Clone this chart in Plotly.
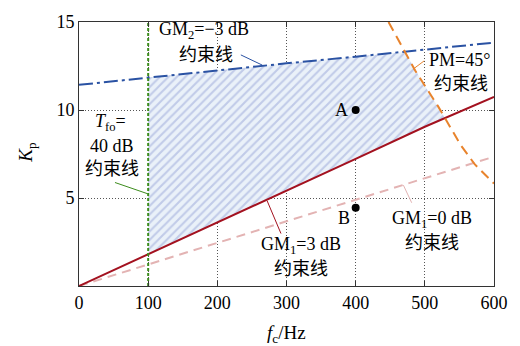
import numpy as np
import plotly.graph_objects as go

# ---- data ----
freq_line = [0, 100, 200, 300, 400, 500, 600]
gm2_kp = [11.43, 11.85, 12.25, 12.65, 13.03, 13.42, 13.83]      # GM2=-3 dB
gm1_3db_kp = [0, 1.80, 3.62, 5.44, 7.22, 9.05, 10.75]           # GM1=3 dB
gm1_0db_kp = [0, 1.22, 2.45, 3.68, 4.90, 6.12, 7.35]            # GM1=0 dB
pm_freq = [447.5, 470, 486, 519, 529, 552, 572, 600]            # PM=45 deg
pm_kp = [15.0, 13.4, 12.24, 10.22, 9.55, 8.0, 6.92, 5.82]
tfo_freq = [100, 100]                                            # Tfo=40 dB
tfo_kp = [0, 15]
point_names = ["A", "B"]
point_freq = [400, 400]
point_kp = [10.0, 4.45]
x_ticks = [0, 100, 200, 300, 400, 500, 600]
y_ticks = [5, 10, 15]

FONT = "Liberation Serif, Times New Roman, Noto Sans CJK SC, serif"

# feasible region: f >= Tfo, above GM1=3dB, below GM2 and PM curve
fg = np.linspace(tfo_freq[0], 600, 2001)
up = np.minimum(np.interp(fg, freq_line, gm2_kp),
                np.interp(fg, pm_freq, pm_kp, left=np.inf, right=-np.inf))
lo = np.interp(fg, freq_line, gm1_3db_kp)
ok = up >= lo
rf = fg[ok]
reg_x = np.concatenate([rf, rf[::-1], rf[:1]])
reg_y = np.concatenate([up[ok], lo[ok][::-1], up[ok][:1]])

fig = go.Figure()
fig.add_trace(go.Scatter(
    x=reg_x, y=reg_y, mode="lines", line=dict(width=0), fill="toself",
    fillcolor="#eaf1f9",
    fillpattern=dict(shape="/", fgcolor="#98a6d8", bgcolor="#eaf1f9", size=6, solidity=0.35),
    hoverinfo="skip"))
fig.add_trace(go.Scatter(x=freq_line, y=gm1_0db_kp, mode="lines",
                         line=dict(color="#e3b3b3", width=2, dash="9px,6px")))
fig.add_trace(go.Scatter(x=freq_line, y=gm1_3db_kp, mode="lines",
                         line=dict(color="#a3111f", width=2)))
fig.add_trace(go.Scatter(x=freq_line, y=gm2_kp, mode="lines",
                         line=dict(color="#2a52a3", width=2, dash="14px,4px,3px,4px")))
fig.add_trace(go.Scatter(x=pm_freq, y=pm_kp, mode="lines",
                         line=dict(color="#e8832c", width=2, dash="10px,6px")))
fig.add_trace(go.Scatter(x=tfo_freq, y=tfo_kp, mode="lines",
                         line=dict(color="#3c8c1c", width=2, dash="3px,2px")))
fig.add_trace(go.Scatter(x=point_freq, y=point_kp, mode="markers",
                         marker=dict(color="black", size=8)))

def txt(x, y, s, color="black"):
    fig.add_annotation(x=x, y=y, xref="x", yref="y", text=s, showarrow=False,
                       xanchor="center", yanchor="middle",
                       font=dict(family=FONT, size=18, color=color))

def leader(x0, y0, x1, y1, color):
    fig.add_shape(type="line", x0=x0, y0=y0, x1=x1, y1=y1, xref="x", yref="y",
                  line=dict(color=color, width=1))

txt(181, 14.5, "GM<sub>2</sub>=−3 dB")
txt(184, 13.1, "约束线")
leader(234, 13.13, 265, 12.55, "#2a52a3")

txt(550, 12.82, "PM=45°")
txt(552, 11.5, "约束线")
leader(483, 12.32, 499, 12.79, "#e8832c")

txt(46, 9.29, "<i>T</i><sub>fo</sub>=")
txt(48, 7.97, "40 dB")
txt(48, 6.65, "约束线")
leader(52, 5.88, 99.3, 5.24, "#3c8c1c")

txt(321, 2.31, "GM<sub>1</sub>=3 dB")
txt(321, 0.99, "约束线")
leader(272, 4.84, 292, 2.98, "#a3111f")

txt(511, 3.79, "GM<sub>1</sub>=0 dB")
txt(511, 2.42, "约束线")
leader(469, 5.73, 481, 4.73, "#e3b3b3")

txt(380, 10.0, point_names[0])
txt(383, 3.85, point_names[1])

fig.add_annotation(x=-0.125, y=0.505, xref="paper", yref="paper",
                   xanchor="center", yanchor="middle",
                   text="<i>K</i><sub>p</sub>", showarrow=False, textangle=-90,
                   font=dict(family=FONT, size=19, color="black"))
fig.add_annotation(x=0.499, y=-0.18, xref="paper", yref="paper",
                   xanchor="center", yanchor="middle",
                   text="<i>f</i><sub>c</sub>/Hz", showarrow=False,
                   font=dict(family=FONT, size=19, color="black"))

axis_common = dict(showline=True, linecolor="#333", linewidth=1, mirror="ticks",
                   ticks="inside", ticklen=5, tickcolor="#333",
                   showgrid=True, gridcolor="#555", gridwidth=1, griddash="1px,2px",
                   zeroline=False, tickfont=dict(family=FONT, size=18, color="black"))
fig.update_xaxes(range=[0, 600], tickvals=x_ticks, **axis_common)
fig.update_yaxes(range=[0, 15], tickvals=y_ticks, **axis_common)

fig.update_layout(width=520, height=346, showlegend=False,
                  margin=dict(l=79, r=24, t=13, b=60),
                  plot_bgcolor="white", paper_bgcolor="white",
                  font=dict(family=FONT, size=18, color="black"))
# remove the browser's default 8px body margin so the figure sits at the window corner
fig.write_html("out.html", config={"displayModeBar": False},
               post_script="document.body.style.margin='0px';")
